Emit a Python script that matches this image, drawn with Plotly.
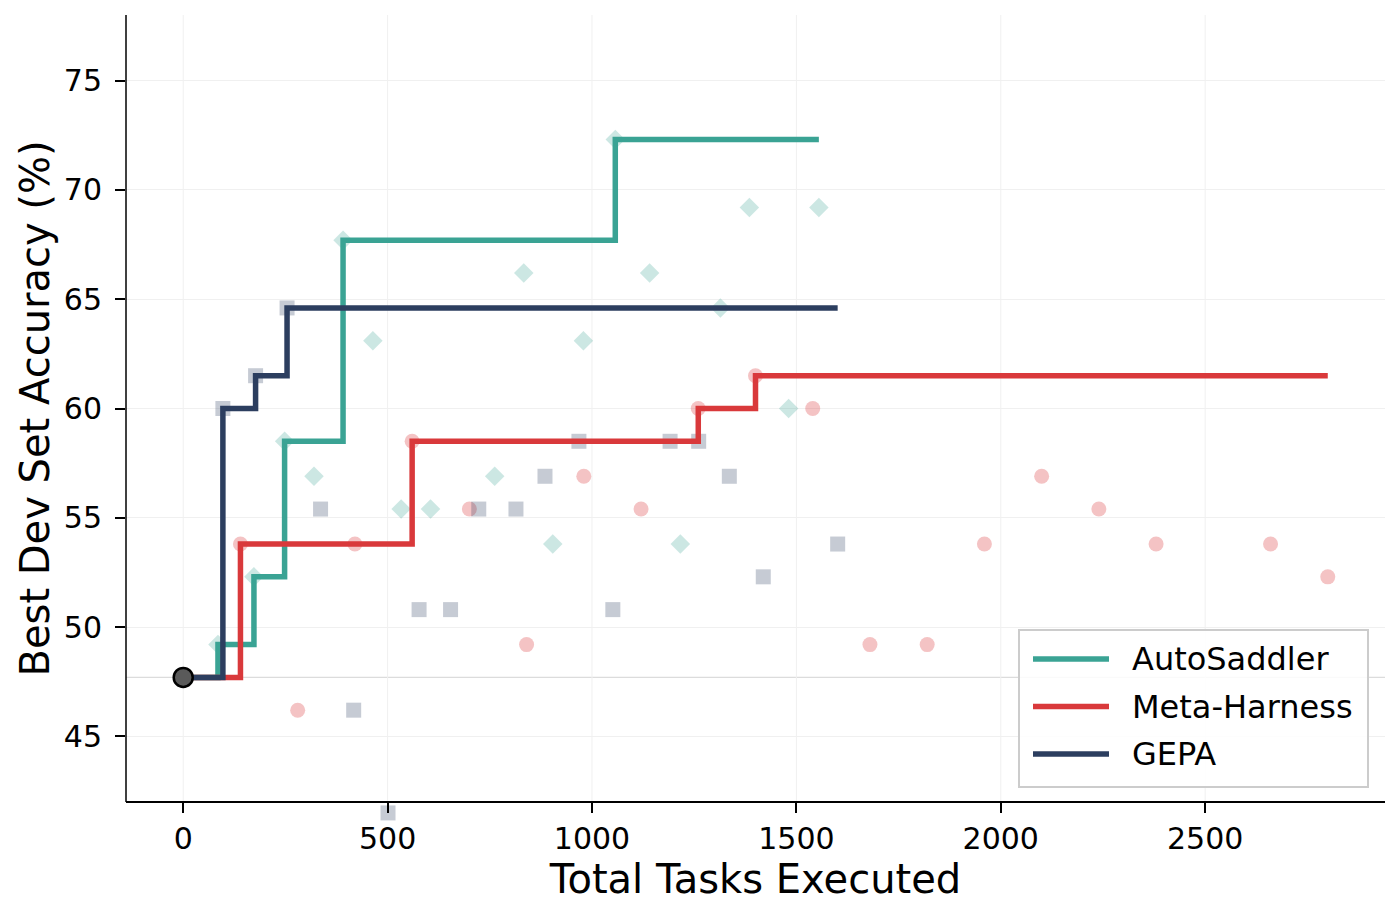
import numpy as np
import plotly.graph_objects as go

# accuracy of the seed prompt, every run starts here
BASELINE = 47.7

# AutoSaddler evaluations (cumulative tasks, dev accuracy %)
auto_x = [85, 173, 248, 320, 391, 464, 533, 605, 762, 833, 904, 979, 1057, 1141, 1216, 1314, 1385, 1481, 1555]
auto_y = [49.2, 52.3, 58.5, 56.9, 67.7, 63.1, 55.4, 55.4, 56.9, 66.2, 53.8, 63.1, 72.3, 66.2, 53.8, 64.6, 69.2, 60.0, 69.2]

# Meta-Harness evaluations
meta_x = [140, 280, 420, 560, 700, 840, 980, 1120, 1260, 1400, 1540, 1680, 1820, 1960, 2100, 2240, 2380, 2660, 2800]
meta_y = [53.8, 46.2, 53.8, 58.5, 55.4, 49.2, 56.9, 55.4, 60.0, 61.5, 60.0, 49.2, 49.2, 53.8, 56.9, 55.4, 53.8, 53.8, 52.3]

# GEPA evaluations
gepa_x = [97, 177, 254, 336, 417, 501, 577, 654, 723, 814, 885, 968, 1051, 1191, 1261, 1336, 1419, 1601]
gepa_y = [60.0, 61.5, 64.6, 55.4, 46.2, 41.5, 50.8, 50.8, 55.4, 55.4, 56.9, 58.5, 50.8, 58.5, 58.5, 56.9, 52.3, 53.8]

x_ticks = [0, 500, 1000, 1500, 2000, 2500]
y_ticks = [45, 50, 55, 60, 65, 70, 75]
X_RANGE = [-140, 2940]
Y_RANGE = [42, 78]

FONT = "DejaVu Sans"
# the page body has an 8px margin, so the figure is a bit smaller than the window
OFF = 8
W, H = 1400 - OFF, 920 - OFF
# axes box in window pixels
PL, PR, PT, PB = 126, 1385, 15, 802
# the lowest GEPA square hangs below the x spine (unclipped in the original),
# so the drawing area runs a little past the spine
SPILL = 20

methods = [
    # name, xs, ys, line colour, light marker colour, symbol
    ("AutoSaddler", auto_x, auto_y, "#3aa394", "rgba(58,163,148,0.26)", "diamond"),
    ("Meta-Harness", meta_x, meta_y, "#d9393b", "rgba(217,57,59,0.30)", "circle"),
    ("GEPA", gepa_x, gepa_y, "#2c3e5f", "rgba(44,62,95,0.27)", "square"),
]


def best_so_far(xs, ys):
    bx = [0] + list(xs)
    by = np.maximum.accumulate([BASELINE] + list(ys))
    return bx, by


fig = go.Figure()

# every evaluated candidate, faint
for name, xs, ys, col, light, sym in methods:
    fig.add_trace(go.Scatter(
        x=xs, y=ys, mode="markers", showlegend=False,
        marker=dict(symbol=sym, size=15, color=light, line=dict(width=0)),
    ))

# best-so-far staircase
for name, xs, ys, col, light, sym in methods:
    bx, by = best_so_far(xs, ys)
    fig.add_trace(go.Scatter(
        x=bx, y=by, mode="lines", name=name, showlegend=False,
        line=dict(color=col, width=5.5, shape="hv"),
    ))

fig.add_trace(go.Scatter(
    x=[0], y=[BASELINE], mode="markers", showlegend=False,
    marker=dict(size=19, color="#5a5a5a", line=dict(color="black", width=2.5)),
    cliponaxis=False,
))

axis_common = dict(
    ticks="outside", ticklen=10, tickwidth=1.5, tickcolor="black",
    zeroline=False,
    tickfont=dict(family=FONT, size=30, color="black"),
    automargin=False,
)

units_per_px = (Y_RANGE[1] - Y_RANGE[0]) / (PB - PT)
area_h = PB + SPILL - PT

fig.update_layout(
    width=W, height=H,
    margin=dict(l=PL - OFF, r=W - (PR - OFF), t=PT - OFF, b=H - (PB + SPILL - OFF)),
    plot_bgcolor="white", paper_bgcolor="white",
    font=dict(family=FONT, color="black"),
    xaxis=dict(range=X_RANGE, tickvals=x_ticks, showgrid=False,
               showline=True, linecolor="black", linewidth=1.5,
               anchor="free", position=SPILL / area_h,
               title=dict(text="Total Tasks Executed", font=dict(size=40), standoff=6),
               **axis_common),
    yaxis=dict(range=[Y_RANGE[0] - SPILL * units_per_px, Y_RANGE[1]], tickvals=y_ticks,
               ticklabelstandoff=7, showline=False,
               showgrid=True, gridcolor="#f0f0f0", gridwidth=1,
               **axis_common),
)

# vertical grid and left spine stop at the x spine
for t in x_ticks:
    fig.add_shape(type="line", xref="x", yref="y", x0=t, x1=t, y0=Y_RANGE[0], y1=Y_RANGE[1],
                  line=dict(color="#f0f0f0", width=1), layer="below")
fig.add_shape(type="line", xref="paper", yref="y", x0=0, x1=0, y0=Y_RANGE[0], y1=Y_RANGE[1],
              line=dict(color="black", width=1.5), layer="above")

fig.add_shape(type="line", xref="paper", yref="y", x0=0, x1=1, y0=BASELINE, y1=BASELINE,
              line=dict(color="#dcdcdc", width=1.3), layer="below")

pw = PR - PL


def px_x(p):
    return (p - PL) / pw


def px_y(p):
    return (PB + SPILL - p) / area_h


# y title centred on the spine, not on the spill area
fig.add_annotation(xref="paper", yref="paper", x=px_x(34), y=px_y((PT + PB) / 2),
                   text="Best Dev Set Accuracy (%)", textangle=-90, showarrow=False,
                   xanchor="center", yanchor="middle",
                   font=dict(family=FONT, size=40, color="black"))

# legend box drawn by hand so the sample lines get matplotlib's length
fig.add_shape(type="rect", xref="paper", yref="paper",
              x0=px_x(1019), x1=px_x(1368), y0=px_y(787), y1=px_y(630),
              line=dict(color="#cccccc", width=2), fillcolor="rgba(255,255,255,0.85)",
              layer="above")
for i, (name, xs, ys, col, light, sym) in enumerate(methods):
    yy = px_y(659 + i * 47.5)
    fig.add_shape(type="line", xref="paper", yref="paper",
                  x0=px_x(1033), x1=px_x(1109), y0=yy, y1=yy,
                  line=dict(color=col, width=5.5), layer="above")
    fig.add_annotation(xref="paper", yref="paper", x=px_x(1130), y=yy,
                       text=name, showarrow=False, xanchor="left", yanchor="middle",
                       font=dict(family=FONT, size=32, color="black"))

fig.write_html("out.html")
